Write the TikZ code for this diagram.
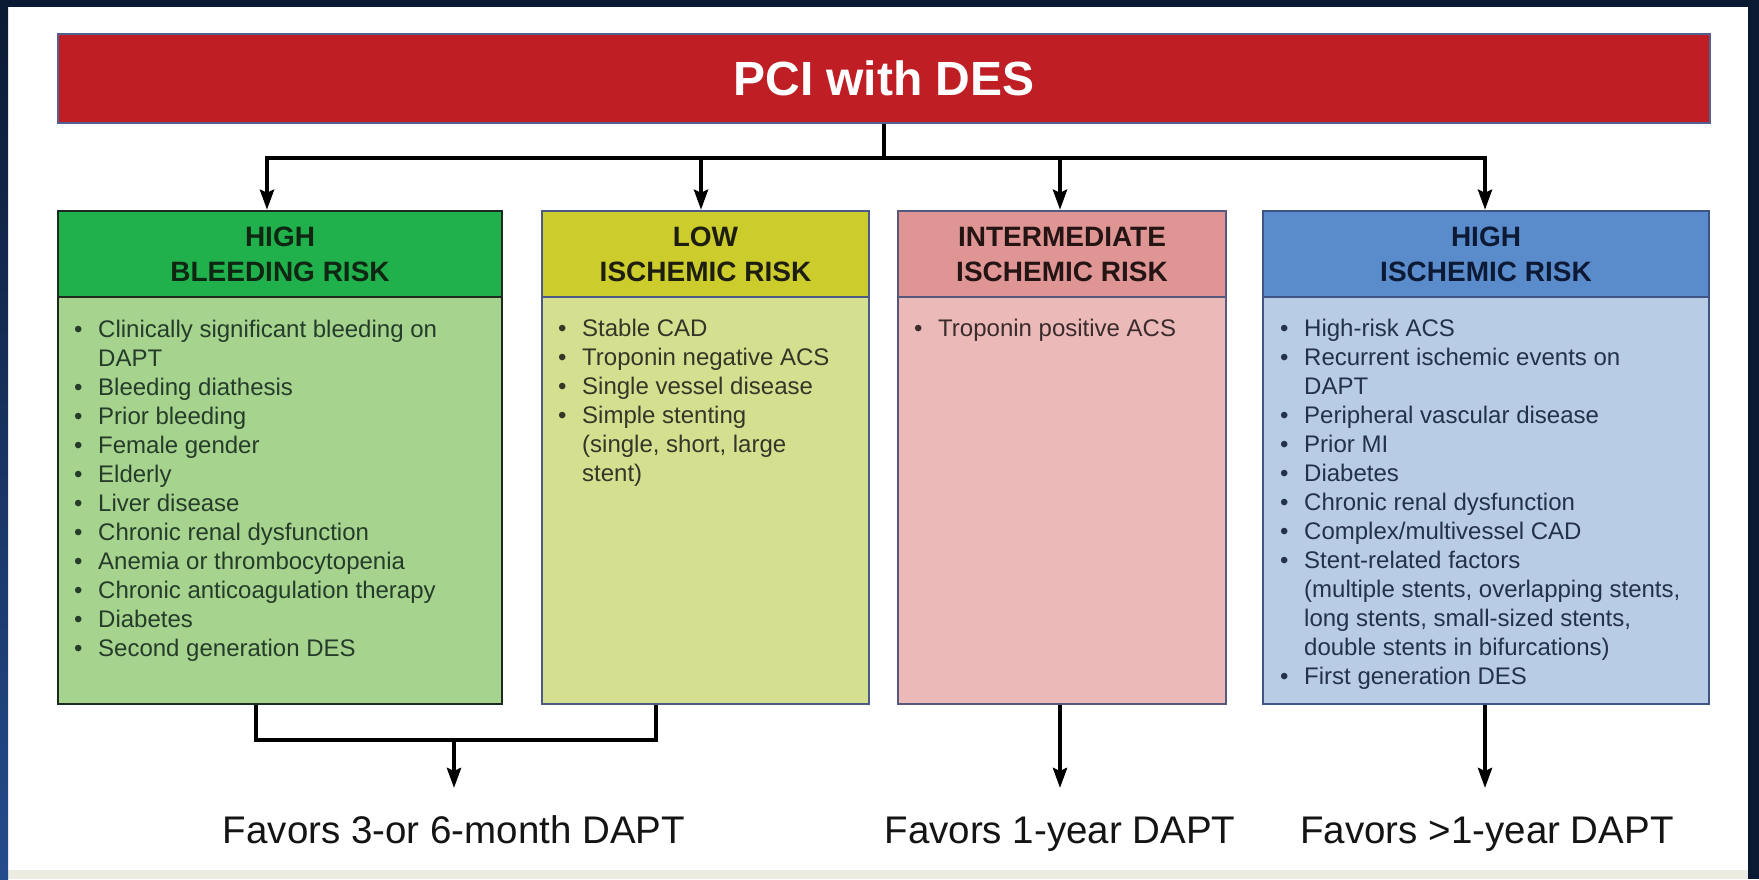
\documentclass[tikz,border=0pt]{standalone}
\usepackage{fontspec}
\setmainfont{Liberation Sans}
\usetikzlibrary{arrows.meta}

% frame and title colours
\definecolor{frame}{HTML}{0B1A33}
\definecolor{frameblue}{HTML}{244B8C}
\definecolor{footband}{HTML}{ECECE2}
\definecolor{pcired}{HTML}{BE1E24}
\definecolor{pciedge}{HTML}{55608F}
% risk category colours
\definecolor{grnhead}{HTML}{20B04C}
\definecolor{grnbody}{HTML}{A6D38E}
\definecolor{grnedge}{HTML}{1C2A20}
\definecolor{grntext}{HTML}{0E2612}
\definecolor{yelhead}{HTML}{CCCC2C}
\definecolor{yelbody}{HTML}{D4E08F}
\definecolor{yeledge}{HTML}{4E5A86}
\definecolor{yeltext}{HTML}{1E1E10}
\definecolor{pnkhead}{HTML}{DE9594}
\definecolor{pnkbody}{HTML}{EBB9B8}
\definecolor{pnkedge}{HTML}{57587E}
\definecolor{pnktext}{HTML}{241414}
\definecolor{bluhead}{HTML}{5A8CCB}
\definecolor{blubody}{HTML}{B8CCE5}
\definecolor{bluedge}{HTML}{3E5586}
\definecolor{blutext}{HTML}{0C1A36}

\newcommand{\bul}{\makebox[24pt][l]{\textbullet}}
\newcommand{\cont}{\hspace*{24pt}}

\begin{document}
\begin{tikzpicture}[x=1pt, y=-1pt,
  conn/.style={line width=4pt, black},
  arr/.style={conn, -{Stealth[length=20pt,width=14pt,inset=3pt]}},
  shapebox/.style={rectangle, inner sep=0pt, line width=2.5pt},
  hdr/.style={shapebox, align=center, font=\bfseries\fontsize{28}{35}\selectfont},
  listtext/.style={inner sep=0pt, anchor=north west, font=\fontsize{24}{29}\selectfont},
  lbl/.style={inner sep=0pt, anchor=base, text=black!92, font=\fontsize{38.5}{44}\selectfont}]

% page and frame
\useasboundingbox (0,0) rectangle (1759,879);
\fill[white] (0,0) rectangle (1759,879);
\fill[footband] (8,870) rectangle (1748,879);
\fill[frame] (0,0) rectangle (1759,7);
\fill[frame] (1748,0) rectangle (1759,879);
\shade[top color=frame, bottom color=frameblue] (0,0) rectangle (8,879);

% title bar
\node[shapebox, line width=2pt, fill=pcired, draw=pciedge, text=white,
      minimum width=1652pt, minimum height=89pt,
      font=\bfseries\fontsize{48}{56}\selectfont] (pci) at (884,78.5) {PCI with DES};

% body panels
\node[shapebox, fill=grnbody, draw=grnedge, minimum width=444pt, minimum height=407pt] (gb) at (280,500.5) {};
\node[shapebox, fill=yelbody, draw=yeledge, minimum width=327pt, minimum height=407pt] (yb) at (705.5,500.5) {};
\node[shapebox, fill=pnkbody, draw=pnkedge, minimum width=328pt, minimum height=407pt] (pb) at (1062,500.5) {};
\node[shapebox, fill=blubody, draw=bluedge, minimum width=446pt, minimum height=407pt] (bb) at (1486,500.5) {};

% header panels
\node[hdr, fill=grnhead, draw=grnedge, text=grntext, minimum width=444pt, minimum height=86pt] (gh) at (280,254) {HIGH\\BLEEDING RISK};
\node[hdr, fill=yelhead, draw=yeledge, text=yeltext, minimum width=327pt, minimum height=86pt] (yh) at (705.5,254) {LOW\\ISCHEMIC RISK};
\node[hdr, fill=pnkhead, draw=pnkedge, text=pnktext, minimum width=328pt, minimum height=86pt] (ph) at (1062,254) {INTERMEDIATE\\ISCHEMIC RISK};
\node[hdr, fill=bluhead, draw=bluedge, text=blutext, minimum width=446pt, minimum height=86pt] (bh) at (1486,254) {HIGH\\ISCHEMIC RISK};

% bullet lists
\node[listtext, text=grntext!90!white] (gl) at (74,317) {\begin{tabular}{@{}l@{}}
\bul Clinically significant bleeding on\\
\cont DAPT\\
\bul Bleeding diathesis\\
\bul Prior bleeding\\
\bul Female gender\\
\bul Elderly\\
\bul Liver disease\\
\bul Chronic renal dysfunction\\
\bul Anemia or thrombocytopenia\\
\bul Chronic anticoagulation therapy\\
\bul Diabetes\\
\bul Second generation DES
\end{tabular}};

\node[listtext, text=yeltext!90!white] (yl) at (558,316) {\begin{tabular}{@{}l@{}}
\bul Stable CAD\\
\bul Troponin negative ACS\\
\bul Single vessel disease\\
\bul Simple stenting\\
\cont (single, short, large\\
\cont stent)
\end{tabular}};

\node[listtext, text=pnktext!90!white] (pl) at (914,316) {\begin{tabular}{@{}l@{}}
\bul Troponin positive ACS
\end{tabular}};

\node[listtext, text=blutext!90!white] (bl) at (1280,316) {\begin{tabular}{@{}l@{}}
\bul High-risk ACS\\
\bul Recurrent ischemic events on\\
\cont DAPT\\
\bul Peripheral vascular disease\\
\bul Prior MI\\
\bul Diabetes\\
\bul Chronic renal dysfunction\\
\bul Complex/multivessel CAD\\
\bul Stent-related factors\\
\cont (multiple stents, overlapping stents,\\
\cont long stents, small-sized stents,\\
\cont double stents in bifurcations)\\
\bul First generation DES
\end{tabular}};

% outcome labels
\node[lbl] (o1) at (454,843) {Favors 3-or 6-month DAPT};
\node[lbl] (o2) at (1060,843) {Favors 1-year DAPT};
\node[lbl] (o3) at (1487,843) {Favors >1-year DAPT};

% branching from the title bar
\coordinate (t1) at (267,158);
\coordinate (t2) at (701,158);
\coordinate (t3) at (1060,158);
\coordinate (t4) at (1485,158);
\draw[conn] (pci.south) -- (pci.south |- t1);
\draw[conn, line cap=rect] (t1) -- (t4);
\draw[arr] (t1) -- (t1 |- gh.north);
\draw[arr] (t2) -- (t2 |- yh.north);
\draw[arr] (t3) -- (t3 |- ph.north);
\draw[arr] (t4) -- (t4 |- bh.north);

% merging toward the outcomes
\coordinate (tipy) at (0,788);
\coordinate (m1) at (256,740);
\coordinate (m2) at (656,740);
\coordinate (mm) at (454,740);
\draw[conn] (m1 |- gb.south) -- (m1) -- (m2) -- (m2 |- yb.south);
\draw[arr] (mm) -- (mm |- tipy);
\draw[arr] (pb.south -| t3) -- (t3 |- tipy);
\draw[arr] (bb.south -| t4) -- (t4 |- tipy);

\end{tikzpicture}
\end{document}
